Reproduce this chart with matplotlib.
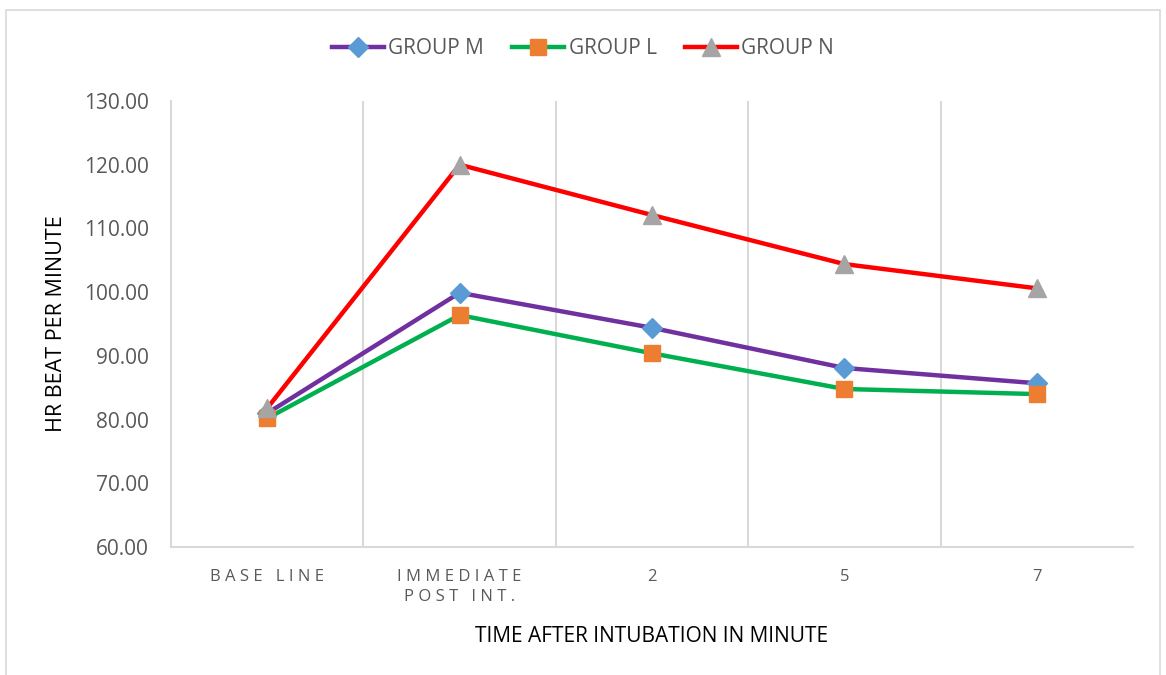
import matplotlib.pyplot as plt
from matplotlib.patches import Rectangle

categories = ['B A S E   L I N E', 'I M M E D I A T E\nP O S T   I N T .', '2', '5', '7']
group_m = [81.0, 99.9, 94.4, 88.1, 85.7]
group_l = [80.2, 96.4, 90.4, 84.8, 84.0]
group_n = [81.8, 120.0, 112.1, 104.4, 100.6]

plt.rcParams['font.family'] = ['Open Sans', 'DejaVu Sans']

fig = plt.figure(figsize=(11.66, 6.75), dpi=100)
fig.patch.set_facecolor('white')
fig.patches.append(Rectangle((0.005, -0.01), 0.99, 0.995, transform=fig.transFigure,
                             fill=False, edgecolor='#d9d9d9', linewidth=1.2))

ax = fig.add_axes([0.1467, 0.1896, 0.825, 0.6608])
x = list(range(len(categories)))

ax.plot(x, group_m, color='#7030a0', linewidth=3.2, marker='D', markersize=10,
        markerfacecolor='#5b9bd5', markeredgecolor='#5b9bd5', label='GROUP M', zorder=3)
ax.plot(x, group_l, color='#00b050', linewidth=3.2, marker='s', markersize=12,
        markerfacecolor='#ed7d31', markeredgecolor='#ed7d31', label='GROUP L', zorder=4)
ax.plot(x, group_n, color='#ff0000', linewidth=3.2, marker='^', markersize=13,
        markerfacecolor='#a5a5a5', markeredgecolor='#a5a5a5', label='GROUP N', zorder=5)

ax.set_xlim(-0.5, 4.5)
ax.set_ylim(60, 130)
ax.set_yticks(range(60, 131, 10))
ax.set_yticklabels([f'{v:.2f}' for v in range(60, 131, 10)])
ax.set_xticks(x)
ax.set_xticklabels(categories, linespacing=1.3)

for xv in [0.5, 1.5, 2.5, 3.5]:
    ax.axvline(xv, color='#d9d9d9', linewidth=1.5, zorder=1)

for s in ['top', 'right']:
    ax.spines[s].set_visible(False)
ax.spines['left'].set_color('#d9d9d9')
ax.spines['bottom'].set_color('#d9d9d9')
ax.spines['left'].set_linewidth(1.5)
ax.spines['bottom'].set_linewidth(1.5)
ax.tick_params(axis='both', length=0, colors='#595959')
ax.tick_params(axis='y', labelsize=15, pad=16)
ax.tick_params(axis='x', labelsize=12, pad=16)

ax.set_ylabel('HR BEAT PER MINUTE', fontsize=15.5, color='black', labelpad=12)
ax.set_xlabel('TIME AFTER INTUBATION IN MINUTE', fontsize=15, color='black', labelpad=15)

leg = fig.legend(loc='center', bbox_to_anchor=(0.5, 0.928), ncol=3, frameon=False,
                 fontsize=15, handlelength=2.5, columnspacing=1.35, handletextpad=0.2)
for t in leg.get_texts():
    t.set_color('#595959')

fig.savefig('out.png', dpi=100, facecolor='white')
